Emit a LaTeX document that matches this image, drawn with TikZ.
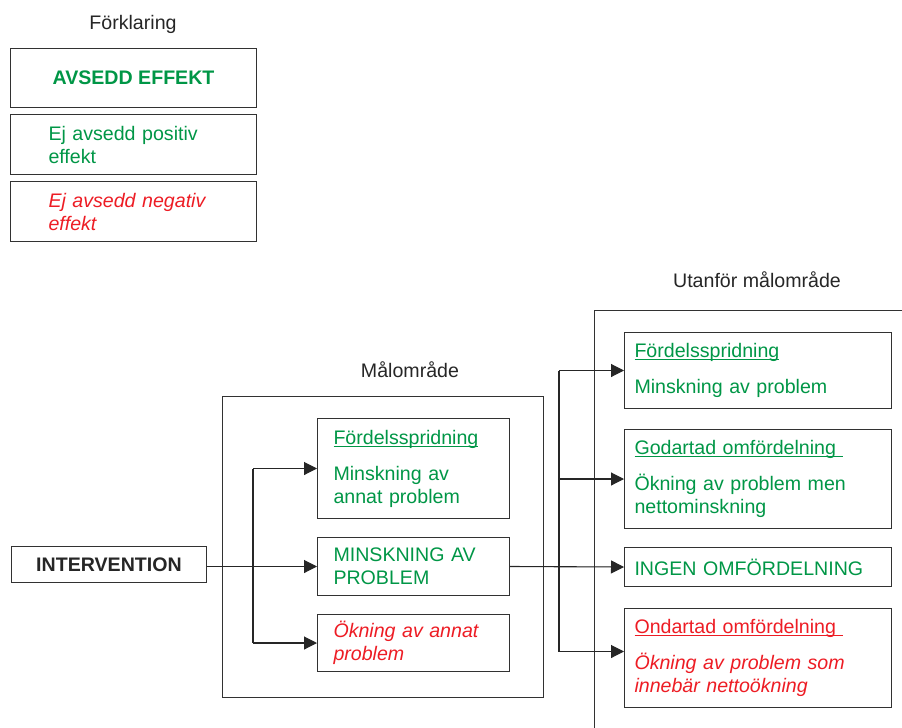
\documentclass[tikz,border=0pt]{standalone}
\usepackage{fontspec}
\setmainfont{Liberation Sans}
\usetikzlibrary{arrows.meta,positioning}
\definecolor{effgreen}{RGB}{0,150,70}
\definecolor{effred}{RGB}{237,28,36}
\definecolor{boxline}{RGB}{50,50,50}
\newcommand{\undl}[1]{\leavevmode\setbox0=\hbox{#1}\rlap{\rule[-2.6pt]{\wd0}{0.9pt}}\box0}

\begin{document}
\fontsize{19.6}{23}\selectfont
\begin{tikzpicture}[x=1pt,y=-1pt,
  box/.style={draw=boxline,line width=1pt,anchor=north west,inner ysep=0pt},
  poseff/.style={text=effgreen},
  negeff/.style={text=effred,font=\itshape},
  innerbox/.style={box,align=left,text width=160pt,inner xsep=16pt,minimum width=192pt},
  outerbox/.style={box,align=left,text width=247pt,inner xsep=10pt,minimum width=267pt},
  arr/.style={-{Triangle[length=13pt,width=13pt]},line width=1.1pt,draw=black!85,fill=black!85}]
  \useasboundingbox (0,0) rectangle (902,728);
  % legend
  \node[anchor=base,text=black!85] (legtitle) at (133,29) {Förklaring};
  \node[box,poseff,font=\bfseries,minimum width=246pt,minimum height=59pt] (avsedd) at (10,48) {AVSEDD EFFEKT};
  \node[box,poseff,align=left,text width=170pt,inner xsep=38pt,minimum width=246pt,minimum height=60pt] (positiv) at (10,114) {Ej avsedd positiv\\effekt};
  \node[box,negeff,align=left,text width=170pt,inner xsep=38pt,minimum width=246pt,minimum height=60pt] (negativ) at (10,181) {Ej avsedd negativ\\effekt};
  % intervention
  \node[box,font=\bfseries,text=black!85,minimum width=195pt,minimum height=36pt] (interv) at (11,546) {INTERVENTION};
  % target area
  \node[box,minimum width=321pt,minimum height=301pt] (malomr) at (222,396) {};
  \node[anchor=base,text=black!85] (mallabel) at (410,377) {Målområde};
  \node[innerbox,poseff,minimum height=100pt] (spridA) at (317,418) {\undl{Fördelsspridning}\\[13pt]Minskning av\\annat problem};
  \node[innerbox,poseff,minimum height=58pt] (minsk) at (317,537) {MINSKNING AV\\PROBLEM};
  \node[innerbox,negeff,minimum height=57pt] (okning) at (317,614) {Ökning av annat\\problem};
  % outside target area
  \draw[boxline,line width=1pt] (594,728) |- (902,310);
  \node[anchor=base,text=black!85] (utlabel) at (757,287) {Utanför målområde};
  \node[outerbox,poseff,minimum height=76pt] (spridB) at (624,332) {\undl{Fördelsspridning}\\[13pt]Minskning av problem};
  \node[outerbox,poseff,minimum height=99pt] (godart) at (624,429) {\undl{Godartad omfördelning\ }\\[13pt]Ökning av problem men\\nettominskning};
  \node[outerbox,poseff,minimum height=39pt] (ingen) at (624,547) {INGEN OMFÖRDELNING};
  \node[outerbox,text=effred,minimum height=99pt] (ondart) at (624,608) {\undl{Ondartad omfördelning\ }\\[13pt]\itshape Ökning av problem som\\innebär nettoökning};
  % connectors
  \coordinate (jl) at (253,0);
  \coordinate (jr) at (559,0);
  \coordinate (ondin) at ([yshift=6.5pt]ondart.west);
  \draw[arr] (interv.east |- minsk.west) -- (minsk.west);
  \draw[line width=1.1pt,black!85] (jl |- spridA.west) -- (jl |- okning.west);
  \draw[arr] (jl |- spridA.west) -- (spridA.west);
  \draw[arr] (jl |- okning.west) -- (okning.west);
  \draw[arr] (minsk.east) -- (ingen.west);
  \draw[line width=1.1pt,black!85] (jr |- spridB.west) -- (jr |- ondin);
  \draw[arr] (jr |- spridB.west) -- (spridB.west);
  \draw[arr] (jr |- godart.west) -- (godart.west);
  \draw[arr] (jr |- ondin) -- (ondin);
\end{tikzpicture}
\end{document}
